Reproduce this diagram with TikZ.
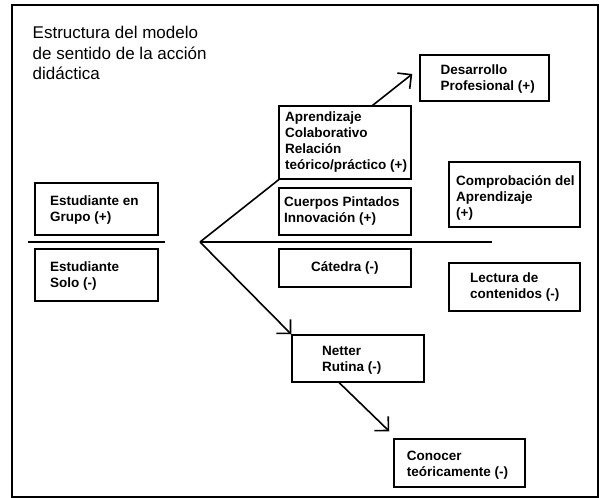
\documentclass[tikz,border=0pt]{standalone}
\usepackage{fontspec}
\setmainfont{Liberation Sans}
\usetikzlibrary{arrows.meta,calc}
\pgfdeclarelayer{bg}
\pgfdeclarelayer{lines}
\pgfsetlayers{bg,lines,main}
\newcommand{\mylines}[1]{\begin{tabular}[t]{@{}l@{}}#1\end{tabular}}
\tikzset{
  box/.style={draw, line width=1.5pt, fill=white, rectangle, inner sep=0pt},
  lbl/.style={anchor=base west, inner sep=0pt, font=\fontsize{13.5}{16}\selectfont\bfseries},
  ttl/.style={anchor=base west, inner sep=0pt, font=\fontsize{17}{20.5}\selectfont},
  conn/.style={line width=1.6pt},
  arr/.style={line width=1.6pt, -{Straight Barb[length=10pt,width=20pt]}},
}
\begin{document}
\begin{tikzpicture}[x=1pt,y=-1pt]
\begin{pgfonlayer}{bg}
\fill[white] (0,0) rectangle (600,498);
\end{pgfonlayer}
\useasboundingbox (0,0) rectangle (600,498);
\draw[line width=2pt] (12,5) rectangle (598,497);

% boxes
\node[box, minimum width=123pt, minimum height=52pt] (grupo) at (96.5,209) {};
\node[box, minimum width=123pt, minimum height=52pt] (solo) at (96.5,275) {};
\node[box, minimum width=132pt, minimum height=73pt] (aprend) at (345,142.5) {};
\node[box, minimum width=132pt, minimum height=47pt] (cuerpos) at (345,211.5) {};
\node[box, minimum width=132pt, minimum height=38pt] (catedra) at (345,268) {};
\node[box, minimum width=129pt, minimum height=46pt] (desarrollo) at (484.5,78) {};
\node[box, minimum width=131pt, minimum height=65pt] (comprob) at (514.5,194.5) {};
\node[box, minimum width=131pt, minimum height=48pt] (lectura) at (514.5,287) {};
\node[box, minimum width=132pt, minimum height=47pt] (netter) at (358,358.5) {};
\node[box, minimum width=131pt, minimum height=48pt] (conocer) at (459.5,463) {};

% texts
\node[ttl] (title) at (32.5,38.5) {\mylines{Estructura del modelo\\de sentido de la acción\\didáctica}};
\node[lbl] (tdesarrollo) at (440.5,74.5) {\mylines{Desarrollo\\Profesional (+)}};
\node[lbl] (taprend) at (285,121.5) {\mylines{Aprendizaje\\Colaborativo\\Relación\\teórico/práctico (+)}};
\node[lbl] (tcuerpos) at (284,206.7) {\mylines{Cuerpos Pintados\\Innovación (+)}};
\node[lbl] (tcomprob) at (456,185) {\mylines{Comprobación del\\Aprendizaje\\(+)}};
\node[lbl] (tgrupo) at (50,205) {\mylines{Estudiante en\\Grupo (+)}};
\node[lbl] (tsolo) at (50,271) {\mylines{Estudiante\\Solo (-)}};
\node[lbl] (tcatedra) at (311,271.7) {Cátedra (-)};
\node[lbl] (tlectura) at (470,282.3) {\mylines{Lectura de\\contenidos (-)}};
\node[lbl] (tnetter) at (322,355) {\mylines{Netter\\Rutina (-)}};
\node[lbl] (tconocer) at (406.7,460) {\mylines{Conocer\\teóricamente (-)}};

% connectors
\coordinate (apex) at (200,242);
\coordinate (sepL) at (28,242);
\coordinate (sepR) at (165,242);
\coordinate (axisEnd) at (492,242);
\coordinate (tipD) at ([xshift=-7pt,yshift=4pt]desarrollo.west);
\coordinate (tipC) at ([xshift=-4pt,yshift=7pt]conocer.north west);
\begin{pgfonlayer}{lines}
\draw[conn] (sepL) -- (sepR);
\draw[conn] (apex) -- (axisEnd);
\draw[arr] (apex) -- (tipD);
\draw[arr] (apex) -- (netter.north west);
\draw[arr] ([xshift=48pt]netter.south west) -- (tipC);
\end{pgfonlayer}
\end{tikzpicture}
\end{document}
